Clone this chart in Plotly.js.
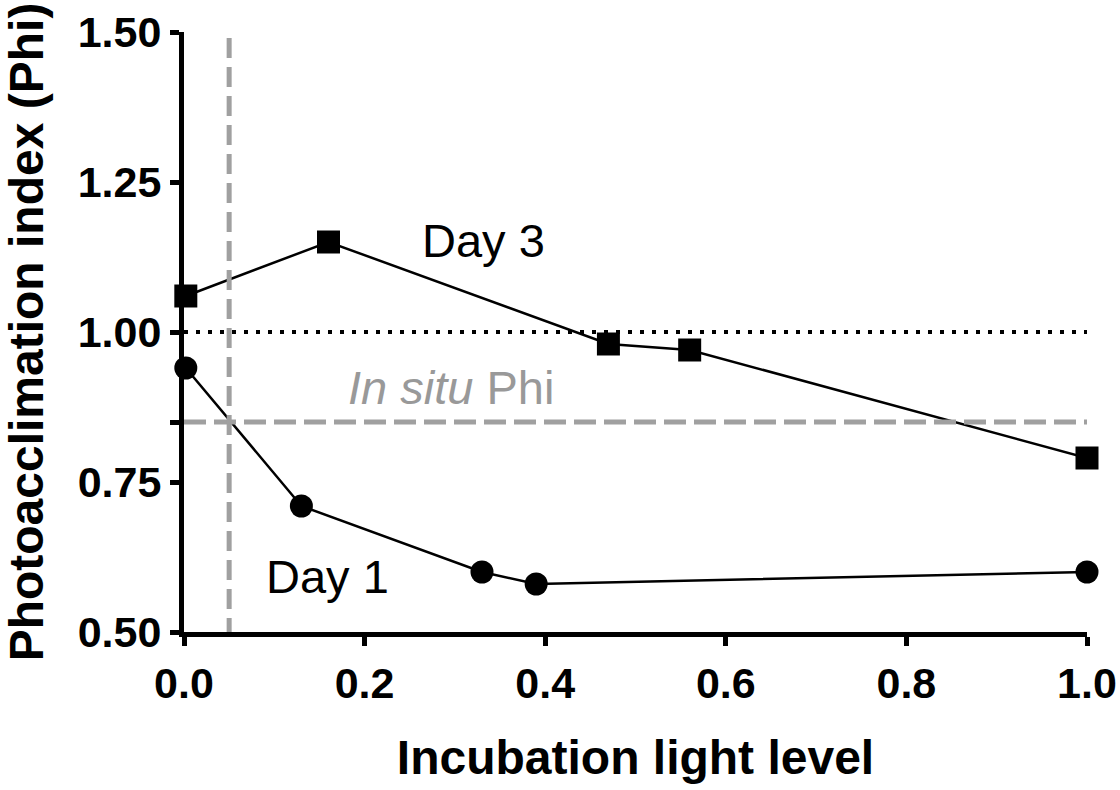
<!DOCTYPE html>
<html>
<head>
<meta charset="utf-8">
<script src="https://cdn.plot.ly/plotly-3.0.1.min.js"></script>
<style>html,body{margin:0;padding:0;background:#fff;}#chart{width:1120px;height:790px;}</style>
</head>
<body>
<div id="chart"></div>
<script>
// Data
const day1X = [0.002, 0.13, 0.33, 0.39, 1.0];
const day1Y = [0.94, 0.71, 0.60, 0.58, 0.60];
const day3X = [0.002, 0.16, 0.47, 0.56, 1.0];
const day3Y = [1.06, 1.15, 0.98, 0.97, 0.79];
const inSituPhi = 0.85;
const referencePhi = 1.0;
const thresholdLight = 0.05;
const xTicks = [0, 0.2, 0.4, 0.6, 0.8, 1.0];
const xTickText = ['0.0', '0.2', '0.4', '0.6', '0.8', '1.0'];
const yTicks = [0.5, 0.75, 0.85, 1.0, 1.25, 1.5];
const yTickText = ['0.50', '0.75', '', '1.00', '1.25', '1.50'];

const FONT = 'Liberation Sans, Arial, Helvetica, sans-serif';

const traces = [
  {
    x: day1X, y: day1Y, type: 'scatter', mode: 'lines+markers', name: 'Day 1',
    line: {color: '#000', width: 2.5},
    marker: {symbol: 'circle', size: 23, color: '#000'},
    cliponaxis: false
  },
  {
    x: day3X, y: day3Y, type: 'scatter', mode: 'lines+markers', name: 'Day 3',
    line: {color: '#000', width: 2.5},
    marker: {symbol: 'square', size: 23, color: '#000'},
    cliponaxis: false
  }
];

const layout = {
  width: 1120, height: 790,
  margin: {l: 184, r: 33, t: 32, b: 158},
  paper_bgcolor: '#fff', plot_bgcolor: '#fff',
  showlegend: false,
  font: {family: FONT, color: '#000'},
  xaxis: {
    range: [0, 1], tickvals: xTicks, ticktext: xTickText,
    showgrid: false, zeroline: false,
    showline: true, linecolor: '#000', linewidth: 5,
    ticks: 'outside', ticklen: 9, tickwidth: 5, tickcolor: '#000',
    tickfont: {family: FONT, size: 43, weight: 'bold', color: '#000'},
    title: {text: 'Incubation light level', font: {family: FONT, size: 48, weight: 'bold', color: '#000'}, standoff: 36}
  },
  yaxis: {
    range: [0.5, 1.5], tickvals: yTicks, ticktext: yTickText,
    showgrid: false, zeroline: false,
    showline: true, linecolor: '#000', linewidth: 5,
    ticks: 'outside', ticklen: 9, tickwidth: 5, tickcolor: '#000',
    tickfont: {family: FONT, size: 43, weight: 'bold', color: '#000'},
    title: {text: 'Photoacclimation index (Phi)', font: {family: FONT, size: 48, weight: 'bold', color: '#000'}, standoff: 20}
  },
  shapes: [
    {type: 'line', xref: 'x', yref: 'y', x0: 0, x1: 1, y0: referencePhi, y1: referencePhi,
     line: {color: '#000', width: 4, dash: '4px,8px'}},
    {type: 'line', xref: 'x', yref: 'y', x0: 0, x1: 1, y0: inSituPhi, y1: inSituPhi,
     line: {color: '#a0a0a0', width: 5, dash: '22px,8px'}},
    {type: 'line', xref: 'x', yref: 'y', x0: thresholdLight, x1: thresholdLight, y0: 0.49, y1: 1.503,
     line: {color: '#a0a0a0', width: 5, dash: '20px,9px'}}
  ],
  annotations: [
    {x: 0.332, y: 1.153, xref: 'x', yref: 'y', text: 'Day 3', showarrow: false,
     font: {family: FONT, size: 47, color: '#000'}},
    {x: 0.159, y: 0.592, xref: 'x', yref: 'y', text: 'Day 1', showarrow: false,
     font: {family: FONT, size: 47, color: '#000'}},
    {x: 0.296, y: 0.908, xref: 'x', yref: 'y', text: '<i>In situ</i> Phi', showarrow: false,
     font: {family: FONT, size: 47, color: '#999999'}}
  ]
};

Plotly.newPlot('chart', traces, layout, {displayModeBar: false, staticPlot: true});
</script>
</body>
</html>
